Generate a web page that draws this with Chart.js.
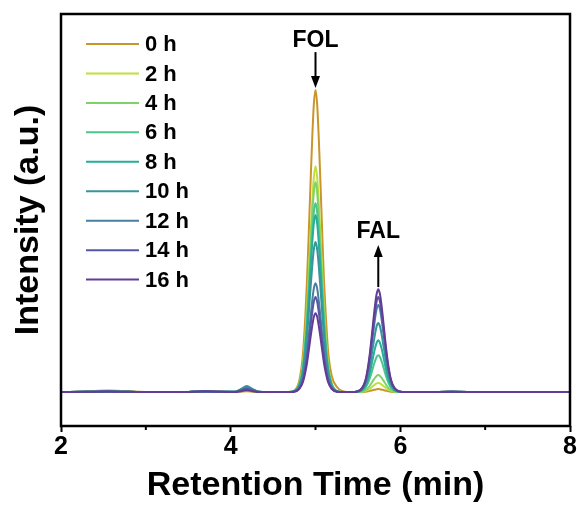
<!DOCTYPE html>
<html>
<head>
<meta charset="utf-8">
<script src="https://cdn.jsdelivr.net/npm/chart.js@4.4.0/dist/chart.umd.min.js"></script>
<style>
html,body{margin:0;padding:0;background:#fff;}
canvas{display:block;}
</style>
</head>
<body>
<canvas id="c" width="577" height="506"></canvas>
<script>
// Retention times (min)
const times = [2.0, 2.3, 2.55, 2.8, 3.1, 3.4, 3.7, 3.9, 4.05, 4.12, 4.19, 4.26, 4.33, 4.45,
  4.68, 4.75, 4.81, 4.85, 4.88, 4.90, 4.92, 4.94, 4.96, 4.98, 5.00, 5.02, 5.04, 5.06, 5.08, 5.10, 5.12, 5.15, 5.19, 5.25, 5.32,
  5.42, 5.49, 5.55, 5.59, 5.62, 5.64, 5.66, 5.68, 5.70, 5.72, 5.74, 5.76, 5.78, 5.80, 5.82, 5.84, 5.86, 5.89, 5.93, 5.99, 6.06,
  6.3, 6.6, 7.0, 7.5, 8.0];

const seriesLabels = ['0 h','2 h','4 h','6 h','8 h','10 h','12 h','14 h','16 h'];
const seriesColors = ['#C8962A','#BDE03A','#7DD36A','#4CC48A','#25AE9A','#3A949C','#4A7EA0','#5458A4','#643C96'];

const int0h = [0,0.2,0.5,0.2,0,0,0.2,0.1,0,0.15,0.3,0.15,0,0,
  0,0.5,4.0,12.1,25.2,37.3,52.4,68.5,83.6,95.7,100.7,95.7,83.6,68.5,52.4,37.3,26.2,13.1,5.5,1.8,0.3,
  0,0,0,0.1,0.25,0.4,0.5,0.7,0.8,0.95,1,0.95,0.8,0.7,0.5,0.4,0.25,0.1,0,0,0,
  0,0.1,0,0,0];
const int2h = [0,0.1,0.3,0.1,0,0,0.2,0.1,0,0.25,0.5,0.25,0,0,
  0,0.4,3.0,9.0,18.8,27.9,39.2,51.2,62.5,71.5,75.3,71.5,62.5,51.2,39.2,27.9,18.8,9.0,3.0,0.4,0,
  0,0,0.1,0.4,0.8,1.1,1.6,2.0,2.5,2.9,3,2.9,2.5,2.0,1.6,1.1,0.8,0.4,0.1,0,0,
  0,0.1,0,0,0];
const int4h = [0,0.1,0.3,0.1,0,0,0.2,0.1,0.05,0.4,0.8,0.4,0.05,0,
  0,0.35,2.8,8.4,17.5,25.9,36.4,47.6,58.1,66.5,70,66.5,58.1,47.6,36.4,25.9,17.5,8.4,2.8,0.35,0,
  0,0,0.2,0.7,1.4,2.1,3.0,3.9,4.7,5.4,5.7,5.4,4.7,3.9,3.0,2.1,1.4,0.7,0.2,0,0,
  0,0.1,0,0,0];
const int6h = [0,0.1,0.2,0.1,0,0,0.2,0.1,0.1,0.6,1.2,0.6,0.1,0,
  0,0.3,2.5,7.6,15.8,23.3,32.8,42.8,52.3,59.9,63,59.9,52.3,42.8,32.8,23.3,15.8,7.6,2.5,0.3,0,
  0,0.1,0.5,1.5,3.1,4.6,6.4,8.4,10.2,11.7,12.3,11.7,10.2,8.4,6.4,4.6,3.1,1.5,0.5,0.1,0,
  0,0.1,0,0,0];
const int8h = [0,0.1,0.2,0.1,0,0,0.2,0.1,0.1,0.9,1.8,0.9,0.1,0,
  0,0.3,2.4,7.1,14.8,21.8,30.7,40.1,49.0,56.1,59,56.1,49.0,40.1,30.7,21.8,14.8,7.1,2.4,0.3,0,
  0,0.1,0.7,2.1,4.3,6.4,9.0,11.8,14.4,16.4,17.3,16.4,14.4,11.8,9.0,6.4,4.3,2.1,0.7,0.1,0,
  0,0.1,0,0,0];
const int10h = [0,0.1,0.2,0.1,0,0,0.2,0.1,0.1,1.0,2.0,1.0,0.1,0,
  0,0.25,2.0,6.0,12.5,18.5,26.0,34.0,41.5,47.5,50,47.5,41.5,34.0,26.0,18.5,12.5,6.0,2.0,0.25,0,
  0,0.1,0.9,2.8,5.8,8.5,12.0,15.6,19.1,21.9,23,21.9,19.1,15.6,12.0,8.5,5.8,2.8,0.9,0.1,0,
  0,0.1,0,0,0];
const int12h = [0,0.1,0.2,0.1,0,0,0.2,0.1,0.1,0.8,1.5,0.8,0.1,0,
  0,0.2,1.5,4.4,9.1,13.4,18.9,24.7,30.1,34.5,36.3,34.5,30.1,24.7,18.9,13.4,9.1,4.4,1.5,0.2,0,
  0,0.15,1.2,3.5,7.3,10.7,15.1,19.7,24.1,27.6,29,27.6,24.1,19.7,15.1,10.7,7.3,3.5,1.2,0.15,0,
  0,0.1,0,0,0];
const int14h = [0,0.1,0.2,0.1,0,0,0.2,0.1,0.05,0.5,1.0,0.5,0.05,0,
  0,0.2,1.3,3.8,7.9,11.7,16.5,21.6,26.3,30.1,31.7,30.1,26.3,21.6,16.5,11.7,7.9,3.8,1.3,0.2,0,
  0,0.2,1.3,3.8,7.9,11.7,16.5,21.6,26.3,30.1,31.7,30.1,26.3,21.6,16.5,11.7,7.9,3.8,1.3,0.2,0,
  0,0.1,0,0,0];
const int16h = [0,0.1,0.2,0.1,0,0,0.3,0.1,0,0.3,0.6,0.3,0,0,
  0,0.1,1.1,3.2,6.6,9.7,13.7,17.9,21.8,25.0,26.3,25.0,21.8,17.9,13.7,9.7,6.6,3.2,1.1,0.1,0,
  0,0.2,1.4,4.1,8.6,12.7,17.8,23.3,28.5,32.6,34.3,32.6,28.5,23.3,17.8,12.7,8.6,4.1,1.4,0.2,0,
  0,0.1,0,0,0];

const seriesValues = [int0h,int2h,int4h,int6h,int8h,int10h,int12h,int14h,int16h];

const xTicks = [2,4,6,8];
const xMinorTicks = [3,5,7];

// Peak annotations (data coordinates)
const peakNotes = [
  {text:'FOL', x:5.0, textY:117, fromY:113.3, toY:101.3},
  {text:'FAL', x:5.74, textY:53.5, fromY:35, toY:49}
];

const FONT = '"Liberation Sans", Arial, Helvetica, sans-serif';

const datasets = seriesValues.map((vals,i)=>({
  label: seriesLabels[i],
  data: times.map((t,j)=>({x:t, y:vals[j]})),
  borderColor: seriesColors[i],
  backgroundColor: seriesColors[i],
  borderWidth: 2,
  pointRadius: 0,
  fill: false,
  cubicInterpolationMode: 'monotone',
  order: seriesValues.length - i
}));

const framePlugin = {
  id:'frame',
  afterDatasetsDraw(chart){
    const {ctx, chartArea:a, scales:{x,y}} = chart;
    ctx.save();
    // minor ticks
    ctx.strokeStyle = '#000';
    ctx.lineWidth = 2;
    xMinorTicks.forEach(v=>{
      const px = x.getPixelForValue(v);
      ctx.beginPath();
      ctx.moveTo(px, a.bottom);
      ctx.lineTo(px, a.bottom + 4);
      ctx.stroke();
    });
    // frame
    ctx.lineWidth = 2.5;
    ctx.strokeRect(a.left, a.top, a.right - a.left, a.bottom - a.top);
    // annotations
    ctx.fillStyle = '#000';
    ctx.font = 'bold 23px ' + FONT;
    ctx.textAlign = 'center';
    ctx.textBaseline = 'middle';
    peakNotes.forEach(n=>{
      const px = x.getPixelForValue(n.x);
      ctx.fillText(n.text, px, y.getPixelForValue(n.textY));
      const y1 = y.getPixelForValue(n.fromY), y2 = y.getPixelForValue(n.toY);
      const dir = Math.sign(y2 - y1);
      const headLen = 12, headW = 4.5;
      ctx.lineWidth = 2;
      ctx.beginPath();
      ctx.moveTo(px, y1);
      ctx.lineTo(px, y2 - dir*headLen*0.8);
      ctx.stroke();
      ctx.beginPath();
      ctx.moveTo(px, y2);
      ctx.lineTo(px - headW, y2 - dir*headLen);
      ctx.lineTo(px + headW, y2 - dir*headLen);
      ctx.closePath();
      ctx.fill();
    });
    // legend
    ctx.font = 'bold 22px ' + FONT;
    ctx.textAlign = 'left';
    const lx0 = a.left + 25, lx1 = a.left + 78, tx = a.left + 84;
    chart.data.datasets.forEach((ds,i)=>{
      const ly = a.top + 30 + i*29.45;
      ctx.strokeStyle = ds.borderColor;
      ctx.lineWidth = 2;
      ctx.beginPath();
      ctx.moveTo(lx0, ly);
      ctx.lineTo(lx1, ly);
      ctx.stroke();
      ctx.fillStyle = '#000';
      ctx.fillText(ds.label, tx, ly + 1);
    });
    ctx.restore();
  }
};

new Chart(document.getElementById('c'), {
  type:'line',
  data:{datasets},
  options:{
    responsive:false,
    animation:false,
    devicePixelRatio:1,
    layout:{padding:{top:14,right:7,left:0,bottom:0}},
    plugins:{legend:{display:false}, tooltip:{enabled:false}},
    scales:{
      x:{
        type:'linear', min:2, max:8,
        afterBuildTicks(s){ s.ticks = xTicks.map(v=>({value:v})); },
        afterFit(s){ s.height = 80; },
        border:{display:false},
        grid:{drawOnChartArea:false, drawTicks:true, tickLength:6, tickWidth:2, tickColor:'#000'},
        ticks:{color:'#000', font:{family:FONT, size:25, weight:'bold'}, padding:0, maxRotation:0, autoSkip:false},
        title:{display:true, text:'Retention Time (min)', color:'#000',
          font:{family:FONT, size:34, weight:'bold', lineHeight:1.0}, padding:{top:0,bottom:3}}
      },
      y:{
        type:'linear', min:-11.3, max:126,
        afterFit(s){ s.width = 61; },
        border:{display:false},
        grid:{display:false},
        ticks:{display:false},
        title:{display:true, text:'Intensity (a.u.)', color:'#000',
          font:{family:FONT, size:34, weight:'bold', lineHeight:1.2}, padding:{top:8,bottom:0}}
      }
    }
  },
  plugins:[framePlugin]
});
</script>
</body>
</html>
